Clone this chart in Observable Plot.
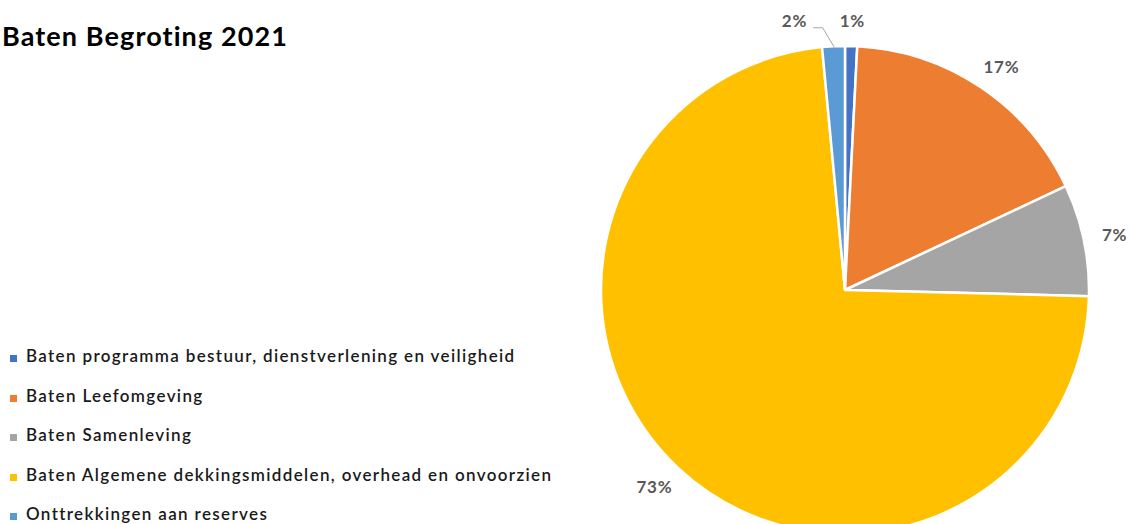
<!DOCTYPE html>
<html>
<head>
<meta charset="utf-8">
<script src="https://cdn.jsdelivr.net/npm/d3@7"></script>
<script src="https://cdn.jsdelivr.net/npm/@observablehq/plot@0.6"></script>
<style>
  html, body { margin: 0; padding: 0; background: #fff; }
  #wrap { position: relative; width: 1130px; height: 524px; overflow: hidden; font-family: Lato, "Open Sans", sans-serif; }
  #title { position: absolute; left: 2px; top: 19px; font-size: 27px; letter-spacing: 1.1px; font-weight: 700; color: #000; white-space: nowrap; }
  #legend { position: absolute; left: 10px; top: 345px; }
  .item { height: 39.5px; display: flex; align-items: flex-start; white-space: nowrap; font-size: 17px; letter-spacing: 1.35px; font-weight: 600; color: #1a1a1a; }
  .sw { width: 7px; height: 7px; margin-top: 10px; margin-right: 9px; flex: none; }
  #chart { position: absolute; left: 0; top: 0; }
</style>
</head>
<body>
<div id="wrap">
  <div id="chart"></div>
  <div id="title">Baten Begroting 2021</div>
  <div id="legend"></div>
</div>
<script>
// Data
const categories = [
  "Baten programma bestuur, dienstverlening en veiligheid",
  "Baten Leefomgeving",
  "Baten Samenleving",
  "Baten Algemene dekkingsmiddelen, overhead en onvoorzien",
  "Onttrekkingen aan reserves"
];
const shares = [0.8, 17.2, 7.4, 73.1, 1.5];
const labels = ["1%", "17%", "7%", "73%", "2%"];
const colors = ["#4472C4", "#ED7D31", "#A5A5A5", "#FFC000", "#5B9BD5"];

const R = 244, cx = 845, cy = 290, W = 1130, H = 524;

const data = categories.map((c, i) => ({category: c, value: shares[i], label: labels[i], color: colors[i]}));
const arcs = d3.pie().sort(null).value(d => d.value)(data);
arcs.forEach(a => { a.mid = (a.startAngle + a.endAngle) / 2; });

// label positions: outside end, box adjacent to the slice edge (unit circle coords, y up)
const gap = 18;
const labelData = arcs.map((a, i) => {
  const w = a.data.label.length * 10 + 6, h = 14;
  const s = Math.sin(a.mid), c = Math.cos(a.mid);
  return {
    x: s + s * (gap + w / 2) / R,
    y: c + c * (gap + h / 2) / R,
    text: a.data.label,
    moved: i === 4
  };
});
// leader for the small "Onttrekkingen" slice
const small = arcs[4];
const leader = [
  {x: Math.sin(small.mid), y: Math.cos(small.mid)},
  {x: 1.078 * Math.sin(small.mid) - 0.043, y: 1.078 * Math.cos(small.mid)},
  {x: 1.078 * Math.sin(small.mid) - 0.08, y: 1.078 * Math.cos(small.mid)}
];

const pieMark = (index, scales) => {
  const x0 = scales.x(0), y0 = scales.y(0);
  const r = scales.x(1) - scales.x(0);
  const arc = d3.arc().innerRadius(0).outerRadius(r);
  const g = d3.create("svg:g").attr("transform", `translate(${x0},${y0})`);
  g.selectAll("path").data(arcs).join("path")
    .attr("d", arc)
    .attr("fill", d => d.data.color)
    .attr("stroke", "#fff")
    .attr("stroke-width", 2.5)
    .attr("stroke-linejoin", "round");
  return g.node();
};

const textStyle = {x: "x", y: "y", text: "text", fill: "#595959", fontSize: 17, fontWeight: 700, fontFamily: "Lato, sans-serif"};

const plot = Plot.plot({
  width: W, height: H,
  margin: 0,
  x: {domain: [(0 - cx) / R, (W - cx) / R], axis: null},
  y: {domain: [(cy - H) / R, cy / R], axis: null},
  marks: [
    pieMark,
    Plot.line(leader, {x: "x", y: "y", stroke: "#a6a6a6", strokeWidth: 1}),
    Plot.text(labelData.filter(d => !d.moved), textStyle),
    Plot.text(labelData.filter(d => d.moved), {...textStyle, dx: -38})
  ],
  style: {background: "transparent", letterSpacing: "0.8px"}
});
document.getElementById("chart").appendChild(plot);

const legend = d3.select("#legend");
data.forEach(d => {
  const it = legend.append("div").attr("class", "item");
  it.append("div").attr("class", "sw").style("background", d.color);
  it.append("div").text(d.category);
});
</script>
</body>
</html>
